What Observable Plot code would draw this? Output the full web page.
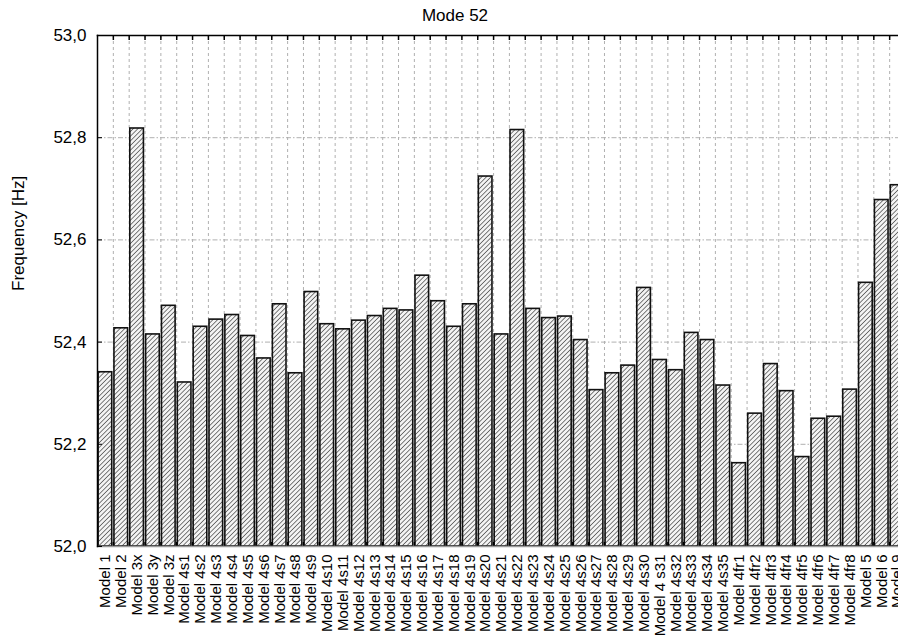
<!DOCTYPE html>
<html>
<head>
<meta charset="utf-8">
<script src="https://cdn.jsdelivr.net/npm/d3@7"></script>
<script src="https://cdn.jsdelivr.net/npm/@observablehq/plot@0.6"></script>
<style>
  html, body { margin: 0; padding: 0; background: #fff; }
  #chart { width: 898px; height: 639px; overflow: hidden; }
</style>
</head>
<body>
<div id="chart"></div>
<script>
const title = "Mode 52";
const yLabel = "Frequency [Hz]";
const categories = [
  "Model 1","Model 2","Model 3x","Model 3y","Model 3z",
  "Model 4s1","Model 4s2","Model 4s3","Model 4s4","Model 4s5","Model 4s6","Model 4s7","Model 4s8","Model 4s9","Model 4s10",
  "Model 4s11","Model 4s12","Model 4s13","Model 4s14","Model 4s15","Model 4s16","Model 4s17","Model 4s18","Model 4s19","Model 4s20",
  "Model 4s21","Model 4s22","Model 4s23","Model 4s24","Model 4s25","Model 4s26","Model 4s27","Model 4s28","Model 4s29","Model 4s30",
  "Model 4 s31","Model 4s32","Model 4s33","Model 4s34","Model 4s35",
  "Model 4fr1","Model 4fr2","Model 4fr3","Model 4fr4","Model 4fr5","Model 4fr6","Model 4fr7","Model 4fr8",
  "Model 5","Model 6","Model 9"
];
const frequencies = [
  52.341, 52.427, 52.818, 52.415, 52.471,
  52.321, 52.430, 52.444, 52.453, 52.412, 52.368, 52.474, 52.339, 52.498, 52.435,
  52.425, 52.442, 52.451, 52.465, 52.462, 52.530, 52.480, 52.430, 52.474, 52.724,
  52.415, 52.815, 52.465, 52.447, 52.450, 52.404, 52.306, 52.339, 52.354, 52.506,
  52.365, 52.345, 52.418, 52.404, 52.315,
  52.163, 52.260, 52.357, 52.304, 52.175, 52.250, 52.254, 52.307,
  52.516, 52.678, 52.707
];
const yTicks = [52.0, 52.2, 52.4, 52.6, 52.8, 53.0];
const yGrid = [52.2, 52.4, 52.6, 52.8];

const data = categories.map((name, i) => ({name, value: frequencies[i]}));
const boundaries = categories.slice(0, -1);

const W = 898, H = 639;
const mTop = 35, mBottom = 93, mLeft = 97;
const xRange = [97, 905];
const step = (xRange[1] - xRange[0]) / categories.length;
const frameH = H - mTop - mBottom;
const font = "Liberation Sans, Arial, Helvetica, sans-serif";
const fmt = d => d.toFixed(1).replace(".", ",");

const chart = Plot.plot({
  width: W,
  height: H,
  marginTop: mTop,
  marginBottom: mBottom,
  marginLeft: mLeft,
  marginRight: 0,
  style: {fontFamily: font, fontSize: "17px", color: "#000", background: "#fff"},
  x: {domain: categories, range: xRange, paddingInner: 0.14, paddingOuter: 0.07, label: null},
  y: {domain: [52, 53], label: null},
  marks: [
    Plot.ruleY(yGrid, {stroke: "#b0b0b0", strokeWidth: 1, strokeDasharray: "5,2,1.5,2"}),
    Plot.ruleX(boundaries, {x: d => d, dx: step / 2, stroke: "#b0b0b0", strokeWidth: 1, strokeDasharray: "3,3"}),
    Plot.barY(data, {x: "name", y1: 52, y2: "value", fill: "url(#hatch)", stroke: "#111", strokeWidth: 1.6}),
    Plot.ruleX(boundaries, {x: d => d, dx: step / 2, stroke: "#000", strokeWidth: 1.5, insetBottom: frameH - 5}),
    Plot.ruleX(boundaries, {x: d => d, dx: step / 2, stroke: "#000", strokeWidth: 1.5, insetTop: frameH - 4}),
    Plot.frame({anchor: "bottom", stroke: "#9a9a9a", strokeWidth: 1.5}),
    Plot.frame({anchor: "top", stroke: "#000", strokeWidth: 1.5}),
    Plot.frame({anchor: "left", stroke: "#000", strokeWidth: 1.5}),
    Plot.axisY({ticks: yTicks, tickFormat: fmt, tickSize: -5, tickPadding: 16, fontSize: 17, label: null}),
    Plot.axisX({tickSize: 0, tickPadding: 8, tickRotate: -90, fontSize: 15, label: null}),
    Plot.text([title], {frameAnchor: "top", dx: -43, dy: -20, lineAnchor: "middle", fontSize: 17}),
    Plot.text([yLabel], {frameAnchor: "left", dx: -79, rotate: -90, fontSize: 17})
  ]
});

const ns = "http://www.w3.org/2000/svg";
const defs = document.createElementNS(ns, "defs");
defs.innerHTML = `
  <pattern id="hatch" patternUnits="userSpaceOnUse" width="3.3" height="3.3" patternTransform="rotate(45)">
    <rect width="3.3" height="3.3" fill="#f4f4f4"/>
    <line x1="0" y1="0" x2="0" y2="3.3" stroke="#2a2a2a" stroke-width="1.2"/>
  </pattern>`;
chart.insertBefore(defs, chart.firstChild);

document.getElementById("chart").appendChild(chart);
</script>
</body>
</html>
